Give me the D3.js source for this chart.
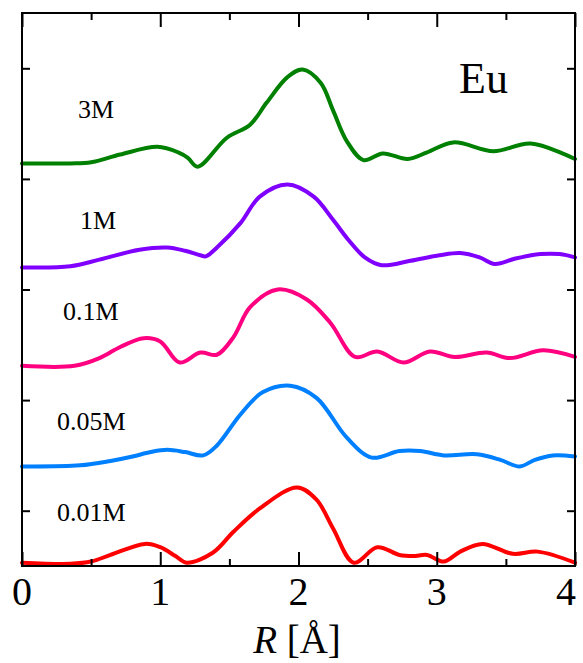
<!DOCTYPE html>
<html>
<head>
<meta charset="utf-8">
<script src="https://cdn.jsdelivr.net/npm/d3@7/dist/d3.min.js"></script>
<style>
  html, body { margin: 0; padding: 0; background: #fff; }
  svg { display: block; }
</style>
</head>
<body>
<svg id="chart" width="583" height="663"></svg>
<script>
// ---- data (R in Å, vertically offset FT magnitude in arbitrary units) ----
const seriesNames = ["3M", "1M", "0.1M", "0.05M", "0.01M"];
const seriesColors = ["#008000", "#8000ff", "#ff0080", "#0080ff", "#ff0000"];

const eu3M = [[0,3.64],[0.35,3.64],[0.50,3.65],[0.71,3.72],[0.98,3.79],[1.13,3.74],[1.20,3.69],[1.27,3.61],[1.48,3.87],[1.65,3.99],[1.77,4.19],[1.92,4.42],[2.03,4.49],[2.16,4.37],[2.25,4.12],[2.35,3.84],[2.47,3.67],[2.61,3.73],[2.79,3.68],[2.93,3.74],[3.12,3.83],[3.41,3.75],[3.68,3.82],[4.00,3.68]];
const eu1M = [[0,2.70],[0.35,2.71],[0.56,2.77],[0.85,2.86],[1.05,2.88],[1.18,2.85],[1.29,2.81],[1.33,2.80],[1.41,2.88],[1.58,3.10],[1.72,3.34],[1.92,3.45],[2.11,3.34],[2.25,3.13],[2.36,2.95],[2.48,2.79],[2.60,2.72],[2.81,2.76],[3.02,2.81],[3.17,2.83],[3.31,2.79],[3.42,2.73],[3.57,2.78],[3.75,2.82],[3.89,2.82],[4.00,2.79]];
const eu01M = [[0,1.81],[0.38,1.81],[0.56,1.88],[0.71,1.98],[0.88,2.06],[1.00,2.03],[1.14,1.84],[1.29,1.93],[1.41,1.91],[1.53,2.07],[1.65,2.34],[1.85,2.50],[2.06,2.41],[2.23,2.20],[2.41,1.89],[2.57,1.94],[2.76,1.84],[2.95,1.94],[3.13,1.89],[3.36,1.93],[3.53,1.88],[3.77,1.95],[4.00,1.89]];
const eu005M = [[0,0.90],[0.42,0.91],[0.64,0.95],[0.80,0.99],[0.93,1.03],[1.05,1.05],[1.18,1.03],[1.31,1.00],[1.41,1.09],[1.58,1.37],[1.74,1.57],[1.94,1.63],[2.13,1.52],[2.35,1.16],[2.53,0.98],[2.73,1.04],[2.88,1.04],[3.05,1.00],[3.29,1.01],[3.46,0.96],[3.60,0.90],[3.71,0.96],[3.84,1.00],[4.00,0.99]];
const eu001M = [[0,0.03],[0.35,0.02],[0.50,0.04],[0.64,0.10],[0.89,0.20],[1.00,0.17],[1.11,0.09],[1.19,0.03],[1.38,0.12],[1.53,0.31],[1.72,0.52],[1.99,0.71],[2.13,0.60],[2.25,0.34],[2.40,0.03],[2.57,0.17],[2.73,0.10],[2.83,0.09],[2.93,0.10],[3.05,0.04],[3.17,0.13],[3.33,0.20],[3.55,0.11],[3.73,0.13],[4.00,0.03]];
const seriesData = [eu3M, eu1M, eu01M, eu005M, eu001M];

const xTickLabels = [0, 1, 2, 3, 4];
const xMinorTicks = [0.5, 1.5, 2.5, 3.5];
const yTicks = [0.5, 1.5, 2.5, 3.5, 4.5];
const xDomain = [0, 4];
const yDomain = [0, 5];

// ---- layout ----
const L = 22, R = 575, T = 13, B = 566;
const svg = d3.select("#chart");
const x = d3.scaleLinear().domain(xDomain).range([L, R]);
const y = d3.scaleLinear().domain(yDomain).range([B, T]);
const font = "'Liberation Serif', 'Times New Roman', serif";

// curves
const line = d3.line()
  .x(d => x(d[0]))
  .y(d => y(d[1]))
  .curve(d3.curveCatmullRom.alpha(0.5));

svg.append("g").selectAll("path")
  .data(seriesData)
  .join("path")
  .attr("d", line)
  .attr("fill", "none")
  .attr("stroke", (d, i) => seriesColors[i])
  .attr("stroke-width", 4)
  .attr("stroke-linejoin", "round")
  .attr("stroke-linecap", "round");

// axes (ticks inward)
const bottomMajor = d3.axisBottom(x).tickValues(xTickLabels).tickSize(-14).tickFormat("");
const bottomMinor = d3.axisBottom(x).tickValues(xMinorTicks).tickSize(-7).tickFormat("");
const topMajor = d3.axisTop(x).tickValues(xTickLabels).tickSize(-14).tickFormat("");
const topMinor = d3.axisTop(x).tickValues(xMinorTicks).tickSize(-7).tickFormat("");
const leftT = d3.axisLeft(y).tickValues(yTicks).tickSize(-8).tickFormat("");
const rightT = d3.axisRight(y).tickValues(yTicks).tickSize(-8).tickFormat("");

function styleAxis(g) {
  g.selectAll(".domain").remove();
  g.selectAll("line").attr("stroke", "#000").attr("stroke-width", 2);
}
svg.append("g").attr("transform", `translate(0,${B})`).call(bottomMajor).call(styleAxis);
svg.append("g").attr("transform", `translate(0,${B})`).call(bottomMinor).call(styleAxis);
svg.append("g").attr("transform", `translate(0,${T})`).call(topMajor).call(styleAxis);
svg.append("g").attr("transform", `translate(0,${T})`).call(topMinor).call(styleAxis);
svg.append("g").attr("transform", `translate(${L},0)`).call(leftT).call(styleAxis);
svg.append("g").attr("transform", `translate(${R},0)`).call(rightT).call(styleAxis);

// frame
svg.append("rect")
  .attr("x", L).attr("y", T).attr("width", R - L).attr("height", B - T)
  .attr("fill", "none").attr("stroke", "#000").attr("stroke-width", 2);

// tick labels
svg.append("g").selectAll("text")
  .data(xTickLabels)
  .join("text")
  .attr("x", d => Math.min(x(d), 566))
  .attr("y", 605)
  .attr("text-anchor", "middle")
  .attr("font-family", font)
  .attr("font-size", 40)
  .text(d => d);

// axis title
const title = svg.append("text")
  .attr("x", 297).attr("y", 653)
  .attr("text-anchor", "middle")
  .attr("font-family", font)
  .attr("font-size", 39);
title.append("tspan").attr("font-style", "italic").text("R");
title.append("tspan").text(" [Å]");

// series labels
const labelPos = [[78, 118], [80, 229], [63, 320], [57, 430], [57, 521]];
svg.append("g").selectAll("text")
  .data(seriesNames)
  .join("text")
  .attr("x", (d, i) => labelPos[i][0])
  .attr("y", (d, i) => labelPos[i][1])
  .attr("font-family", font)
  .attr("font-size", 26)
  .text(d => d);

// element label
svg.append("text")
  .attr("x", 459).attr("y", 93)
  .attr("font-family", font)
  .attr("font-size", 44)
  .text("Eu");
</script>
</body>
</html>
